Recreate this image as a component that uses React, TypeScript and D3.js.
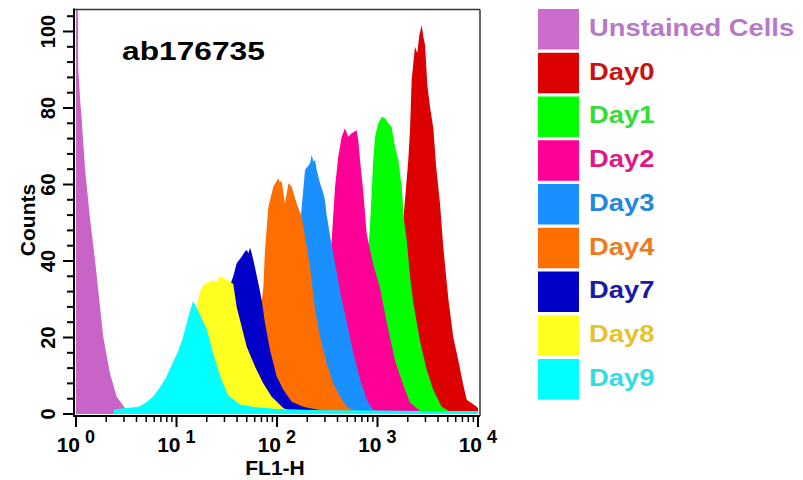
import React from 'react';
import * as d3 from 'd3';

// FL1-H channel value, event count
const unstained: [number, number][] = [
  [1.0, 110], [1.04, 110], [1.05, 91], [1.1, 82], [1.14, 77], [1.23, 64], [1.38, 51],
  [1.55, 40], [1.67, 32], [1.87, 20], [2.18, 10.6], [2.54, 4.5], [3.07, 1.6], [3.3, 0],
];
const day0: [number, number][] = [
  [945, 1], [1188, 5], [1493, 20], [1675, 40], [1877, 56], [2025, 66.4], [2105, 74.2],
  [2188, 87.3], [2360, 96], [2489, 94.3], [2607, 99], [2754, 101.7], [2858, 98.6],
  [2972, 96.5], [3133, 86], [3329, 80.3], [3599, 74.6], [3823, 65], [4189, 55],
  [4519, 43.5], [5072, 30], [5680, 20], [6372, 14], [7145, 7.5], [7727, 3.7],
  [8657, 2.8], [9711, 1.9], [10000, 1.5],
];
const day1: [number, number][] = [
  [424, 0.5], [545, 3], [670, 15], [769, 35], [842, 49], [908, 66.4], [945, 72.5],
  [1018, 76], [1101, 77.7], [1188, 77.3], [1281, 76], [1384, 75], [1493, 69.9],
  [1611, 66.4], [1741, 59.4], [1836, 50.7], [1953, 45.5], [2105, 36], [2271, 29],
  [2649, 19], [3089, 11.5], [3599, 6.3], [4357, 1.9], [5264, 0.6], [5906, 0],
];
const day2: [number, number][] = [
  [169, 0], [213, 3], [268, 15], [322, 35], [350, 45.5], [378, 59.4], [407, 67.3],
  [440, 72.5], [475, 74.7], [512, 72.5], [554, 73.4], [621, 74.2], [644, 71.6],
  [670, 66.4], [722, 58], [782, 47], [908, 39], [1059, 33], [1235, 24], [1493, 14],
  [1806, 7.5], [2105, 3], [2649, 0.8], [3329, 0],
];
const day3: [number, number][] = [
  [98, 0.5], [120, 4], [151, 20], [163, 38], [169, 48], [176, 54], [190, 63.8],
  [199, 64.5], [213, 65.5], [221, 67.7], [231, 66], [239, 66.4], [248, 63.8],
  [268, 60.3], [287, 58], [300, 55.9], [312, 52], [350, 44], [393, 37], [424, 32],
  [494, 24], [574, 16], [670, 9], [782, 3.7], [908, 1], [1059, 0],
];
const day4: [number, number][] = [
  [42.8, 1], [54, 6], [64.7, 20], [69.3, 28], [73.1, 33], [76, 43], [81.9, 54],
  [91.9, 59.4], [103, 61.6], [107, 60.5], [111, 61], [120, 55], [130, 60.3],
  [140, 59.4], [157, 55], [176, 51.6], [194, 45], [213, 38.5], [239, 27.2],
  [268, 20.2], [312, 13.3], [363, 8], [424, 4.5], [494, 1.9], [621, 0.6], [701, 0],
];
const day7: [number, number][] = [
  [13.6, 1.5], [17.1, 5], [21.5, 12], [27.1, 25], [30.5, 31], [32.5, 33], [34.5, 34],
  [36.7, 36], [39.7, 39.4], [44.5, 41.1], [48, 42.5], [50, 42.9], [52, 42],
  [53.9, 43.5], [56, 42], [58.1, 40.3], [65.2, 34.2], [70.4, 29.8], [76, 23.7],
  [85.2, 16.7], [99.3, 9.8], [116, 6.3], [140, 3.2], [183, 1.9], [213, 1.5],
  [300, 0.8], [378, 0],
];
const day8: [number, number][] = [
  [4, 0], [5.45, 2], [8.6, 6], [12.2, 15], [14.2, 22], [15.6, 27], [17.1, 32],
  [18.5, 33.7], [20.0, 34.2], [23.1, 35], [25, 34.6], [27.1, 36], [29.7, 35.5],
  [32.5, 35], [36.7, 34], [39.7, 28], [44.5, 22.8], [50, 17.6], [60.4, 12.4],
  [73.1, 8], [88.6, 4.5], [116, 1.5], [151, 0.5], [200, 0],
];
const day9: [number, number][] = [
  [2.33, 0], [2.4, 1.2], [3.0, 1.5], [4.02, 1.8], [4.33, 2], [4.97, 3], [5.83, 4.5],
  [6.85, 7], [7.86, 9.5], [9.02, 13], [10.4, 16.5], [11.6, 20], [13.0, 25],
  [14.0, 28], [14.6, 29.5], [15.3, 28.5], [17.1, 26], [20.1, 22], [23.1, 16],
  [27.1, 10], [32.5, 5], [42.8, 2.5], [60, 1.8], [100, 1.3], [300, 1.0],
  [1000, 0.9], [3000, 0.8], [10000, 0.8],
];

// back to front, as the reference overlays them
const drawOrder = [unstained, day0, day1, day2, day3, day4, day7, day8, day9];
const fillColors = ['#c864c8', '#dc0000', '#00ff00', '#ff0096', '#1a8fff', '#ff6e00', '#0000c8', '#ffff20', '#00ffff'];

const legendLabels = ['Unstained Cells', 'Day0', 'Day1', 'Day2', 'Day3', 'Day4', 'Day7', 'Day8', 'Day9'];
const legendSwatch = ['#cc6ccc', '#dc0000', '#00ff00', '#ff0096', '#1a8fff', '#ff6e00', '#0000c8', '#ffff20', '#00ffff'];
const legendText = ['#b878c8', '#cc1111', '#33dd33', '#dd1a8a', '#2288dd', '#ee7a22', '#1a1aa8', '#e8c22a', '#33dde0'];

const yTicks = [0, 20, 40, 60, 80, 100];
const xDecades = [0, 1, 2, 3, 4];
const title = 'ab176735';

const FONT = 'Liberation Sans, Arial, Helvetica, sans-serif';

export default function App() {
  const left = 74, right = 480, top = 9.5, axisY = 416;
  const x = d3.scaleLog().domain([1, 1e4]).range([76, 478]);
  const y = d3.scaleLinear().domain([0, 100]).range([414, 31.5]);

  const area = d3.area<[number, number]>()
    .x(d => x(d[0]))
    .y0(y(0))
    .y1(d => y(d[1]))
    .curve(d3.curveLinear);

  const yMinor = d3.range(0, 105, 4).filter(v => v % 20 !== 0);
  const xMinor: number[] = [];
  xDecades.slice(0, -1).forEach(k => {
    for (let m = 2; m <= 9; m++) xMinor.push(m * Math.pow(10, k));
  });

  const rowH = 43.75;

  return (
    <svg width={803} height={480} style={{ position: 'absolute', left: 0, top: 0, background: '#fff' }}
      fontFamily={FONT}>
      <defs>
        <clipPath id="plot">
          <rect x={left} y={top} width={right - left} height={414 - top} />
        </clipPath>
      </defs>

      <g clipPath="url(#plot)">
        {drawOrder.map((pts, i) => (
          <path key={i} d={area(pts) ?? ''} fill={fillColors[i]} />
        ))}
      </g>

      {/* frame */}
      <line x1={left} x2={right} y1={top} y2={top} stroke="#333" strokeWidth={1.5} />
      <line x1={right} x2={right} y1={top} y2={axisY} stroke="#333" strokeWidth={1.5} />
      <line x1={left} x2={left} y1={top - 1} y2={axisY + 1} stroke="#000" strokeWidth={2} />
      <line x1={left} x2={right} y1={axisY} y2={axisY} stroke="#000" strokeWidth={2} />

      {/* y axis */}
      {yTicks.map(t => (
        <g key={t}>
          <line x1={63} x2={left} y1={y(t)} y2={y(t)} stroke="#000" strokeWidth={2} />
          <text transform={`translate(55,${y(t)}) rotate(-90)`} textAnchor="middle"
            fontSize={20} fontWeight="bold">{t}</text>
        </g>
      ))}
      {yMinor.map(t => (
        <line key={t} x1={67} x2={left} y1={y(t)} y2={y(t)} stroke="#000" strokeWidth={2} />
      ))}
      <text transform="translate(35,220) rotate(-90)" textAnchor="middle" fontSize={21}
        fontWeight="bold">Counts</text>

      {/* x axis */}
      {xDecades.map(k => {
        const px = x(Math.pow(10, k));
        return (
          <g key={k}>
            <line x1={px} x2={px} y1={axisY} y2={427} stroke="#000" strokeWidth={2} />
            <text x={px + 4} y={452} textAnchor="end" fontSize={21} fontWeight="bold">10</text>
            <text x={px + 9} y={443} fontSize={18} fontWeight="bold">{k}</text>
          </g>
        );
      })}
      {xMinor.map(v => (
        <line key={v} x1={x(v)} x2={x(v)} y1={axisY} y2={422} stroke="#000" strokeWidth={1.5} />
      ))}
      <text x={275} y={475} textAnchor="middle" fontSize={21} fontWeight="bold">FL1-H</text>

      <text transform="translate(122,60) scale(1.22,1)" fontSize={26} fontWeight="bold">{title}</text>

      {/* legend */}
      {legendLabels.map((lab, i) => {
        const ry = 9 + i * rowH;
        return (
          <g key={lab}>
            <rect x={538} y={ry} width={41} height={40.5} fill={legendSwatch[i]} />
            <text transform={`translate(589,${ry + 20.25 + 6.5}) scale(1.14,1)`} fontSize={24}
              fontWeight="bold" fill={legendText[i]}>{lab}</text>
          </g>
        );
      })}
    </svg>
  );
}
